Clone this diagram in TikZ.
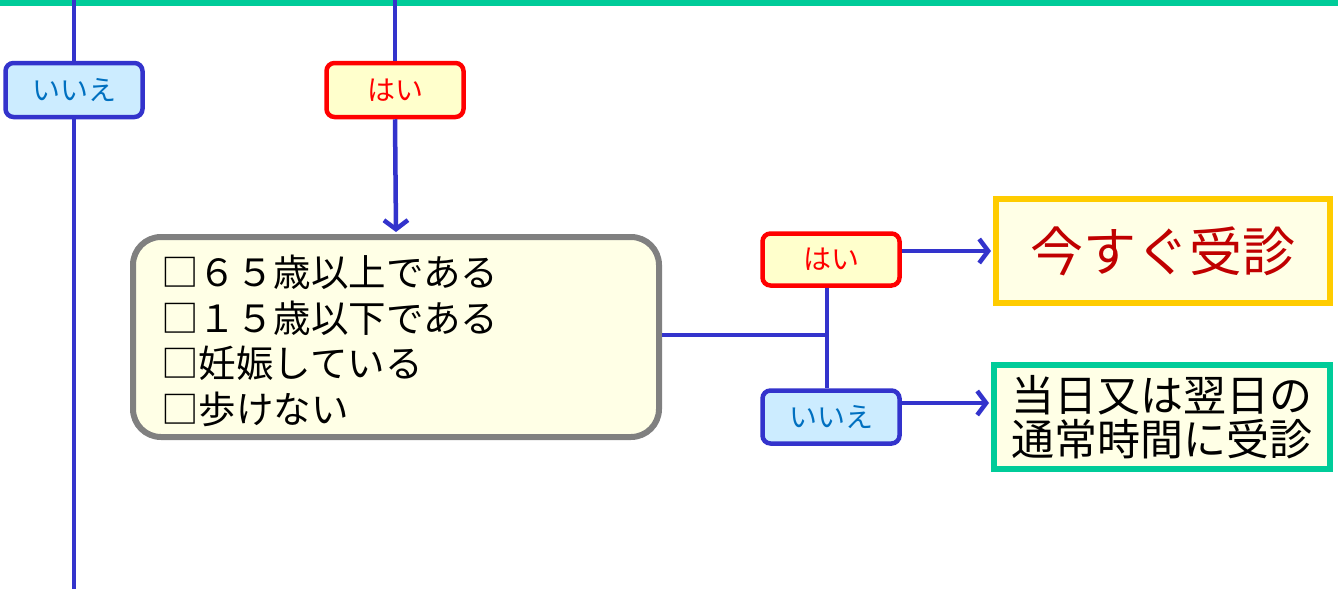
\documentclass[tikz,border=0pt]{standalone}
\usepackage{fontspec}
\newfontfamily\jp{Noto Sans CJK JP}
\usetikzlibrary{positioning,arrows.meta}

\definecolor{lnblue}{HTML}{3333CC}
\definecolor{topgreen}{HTML}{00CC99}
\definecolor{yesfill}{HTML}{FFFFCC}
\definecolor{nofill}{HTML}{CCECFF}
\definecolor{notext}{HTML}{0070C0}
\definecolor{boxfill}{HTML}{FFFFE6}
\definecolor{boxgray}{HTML}{808080}
\definecolor{nowgold}{HTML}{FFCC00}
\definecolor{nowred}{HTML}{C00000}

\begin{document}
\begin{tikzpicture}[x=1pt,y=-1pt]

        \useasboundingbox (0,0) rectangle (1338,589);

        % answer tags and connectors
        \tikzset{
            yes/.style={draw=red, fill=yesfill, line width=4.5pt,
                rounded corners=8pt, minimum width=137pt,
                minimum height=54pt, inner sep=0pt, text=red,
                font=\jp\fontsize{28}{28}\selectfont},
            no/.style={yes, draw=lnblue, fill=nofill, text=notext},
            link/.style={draw=lnblue, line width=4.5pt},
            arr/.style={link, -{Straight Barb[length=9pt,width=24pt]}}
        }

        % green rule at the top
        \draw[topgreen, line width=6pt] (0,3) -- (1338,3);

        \coordinate (L0) at (74,0);
        \coordinate (L1) at (74,589);
        \coordinate (M0) at (395,0);

        \node (N1) [no] at (74,90) {いいえ};
        \node (Y1) [yes] at (395,90) {はい};

        \node (Q) [draw=boxgray, fill=boxfill, line width=6pt,
            rounded corners=28pt, minimum width=526pt,
            minimum height=200pt] at (396,337) {};
        \node (QT) [anchor=west, align=left, inner sep=0pt,
            font=\jp\fontsize{37.5}{45.5}\selectfont] at (161,341)
            {□６５歳以上である\\□１５歳以下である\\□妊娠している\\□歩けない};

        \node (Y2) [yes, minimum height=52pt] at (831,259.5) {はい};
        \node (N2) [no, minimum height=53pt] at (831,417) {いいえ};

        \node (NOW) [draw=nowgold, fill=boxfill, line width=6pt,
            minimum width=334pt, minimum height=104pt, text=nowred,
            inner sep=0pt, font=\jp\fontsize{53}{53}\selectfont]
            at (1163,251) {今すぐ受診};
        \node (NXT) [draw=topgreen, fill=boxfill, line width=6pt,
            minimum width=336pt, minimum height=104pt, align=center,
            inner sep=0pt, font=\jp\fontsize{43}{44}\selectfont]
            at (1162,417) {当日又は翌日の\\通常時間に受診};

        \coordinate (J) at (827,335);

        \begin{scope}
            \draw[link] (L0) -- (N1.north);
            \draw[link] (N1.south) -- (L1);
            \draw[link] (M0) -- (Y1.north);
            \draw[arr] (Y1.south) -- ([yshift=2pt]Q.north);
            \draw[link] (Q.east |- J) -- (J);
            \draw[link] (Y2.south -| J) -- (N2.north -| J);
            \draw[arr] (Y2.east |- NOW.west) -- ([xshift=-2pt]NOW.west);
            \draw[arr] ([yshift=14pt]N2.east)
                -- ([yshift=14pt,xshift=-2pt]N2.east -| NXT.west);
        \end{scope}

\end{tikzpicture}
\end{document}
